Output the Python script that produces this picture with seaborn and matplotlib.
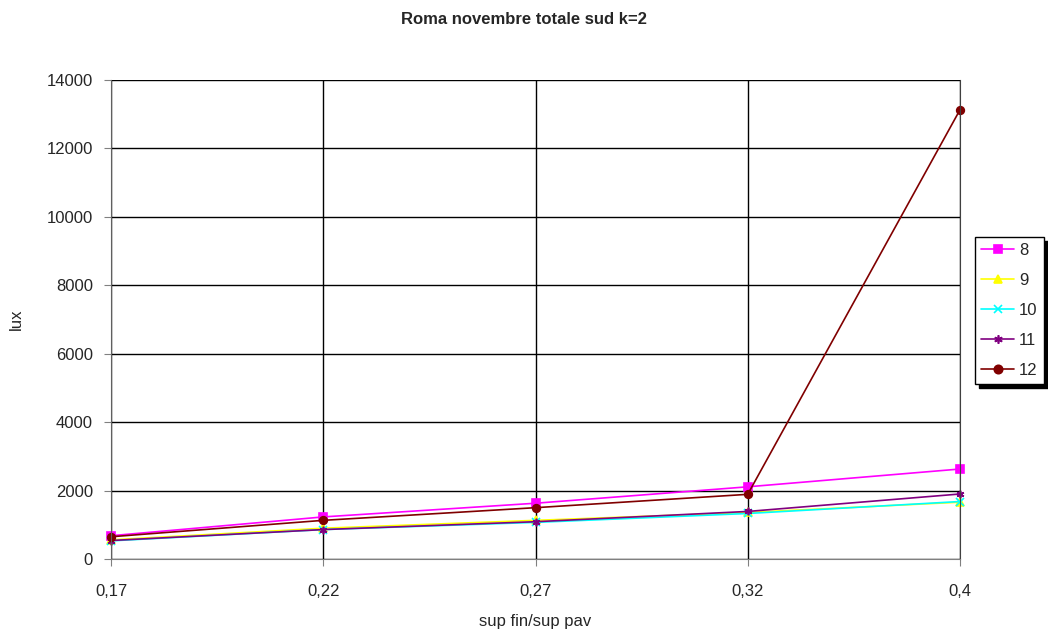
import matplotlib
matplotlib.use("Agg")
import matplotlib.pyplot as plt
import seaborn as sns
import pandas as pd

# data
x_labels = ["0,17", "0,22", "0,27", "0,32", "0,4"]
s8 = [680, 1230, 1630, 2110, 2630]
s9 = [560, 900, 1130, 1360, 1660]
s10 = [530, 860, 1070, 1330, 1680]
s11 = [540, 860, 1090, 1390, 1900]
s12 = [650, 1130, 1500, 1890, 13130]

series = {"8": s8, "9": s9, "10": s10, "11": s11, "12": s12}
positions = list(range(len(x_labels)))

palette = {"8": "#ff00ff", "9": "#ffff00", "10": "#00ffff", "11": "#800080", "12": "#800000"}
markers = {"8": "s", "9": "^", "10": "x", "11": (6, 2, 0), "12": "o"}

sns.set_style("white")
plt.rcParams['font.family'] = ['Liberation Sans', 'DejaVu Sans']

fig = plt.figure(figsize=(10.48, 6.41), dpi=100)
ax = fig.add_axes([111 / 1048, 1 - 559 / 641, (960 - 111) / 1048, (559 - 80) / 641])

for name, vals in series.items():
    df = pd.DataFrame({"pos": positions, "lux": vals})
    sns.lineplot(data=df, x="pos", y="lux", color=palette[name], marker=markers[name],
                 markersize=5.5, linewidth=1.2, markeredgewidth=1.2,
                 markeredgecolor=palette[name], label=name, clip_on=False, ax=ax)

ax.set_xlim(0, 4)
ax.set_ylim(0, 14000)
ax.set_xticks(positions)
ax.set_xticklabels(x_labels)
ax.set_yticks(range(0, 14001, 2000))
ax.grid(True, color="black", linewidth=1)
ax.set_axisbelow(True)
for sp in ax.spines.values():
    sp.set_visible(False)
ax.spines["bottom"].set_visible(True)
ax.spines["bottom"].set_color("#808080")
ax.spines["left"].set_visible(True)
ax.spines["left"].set_color("#606060")
ax.spines["right"].set_visible(True)
ax.spines["right"].set_color("#404040")
ax.tick_params(axis="both", which="both", direction="out", length=5,
               color="#808080", labelsize=12, bottom=True, left=True)
ax.tick_params(axis="x", pad=13)
ax.tick_params(axis="y", pad=8)

ax.set_xlabel("sup fin/sup pav", fontsize=12, labelpad=11)
ax.set_ylabel("lux", fontsize=12, labelpad=16)
fig.suptitle("Roma novembre totale sud k=2", fontsize=12, fontweight="bold", y=0.982)

ax.get_legend().remove()
handles, labels = ax.get_legend_handles_labels()
leg = fig.legend(handles, labels, loc="upper left",
                 bbox_to_anchor=(975 / 1048, 1 - 237 / 641),
                 frameon=True, fancybox=False,
                 shadow={'color': 'black', 'alpha': 1, 'ox': 3, 'oy': -3},
                 edgecolor="black", fontsize=12, handlelength=2.0,
                 borderpad=0.35, labelspacing=0.9, handletextpad=0.3,
                 borderaxespad=0, markerscale=1.1)
leg.get_frame().set_linewidth(1)

fig.savefig("out.png", dpi=100)
